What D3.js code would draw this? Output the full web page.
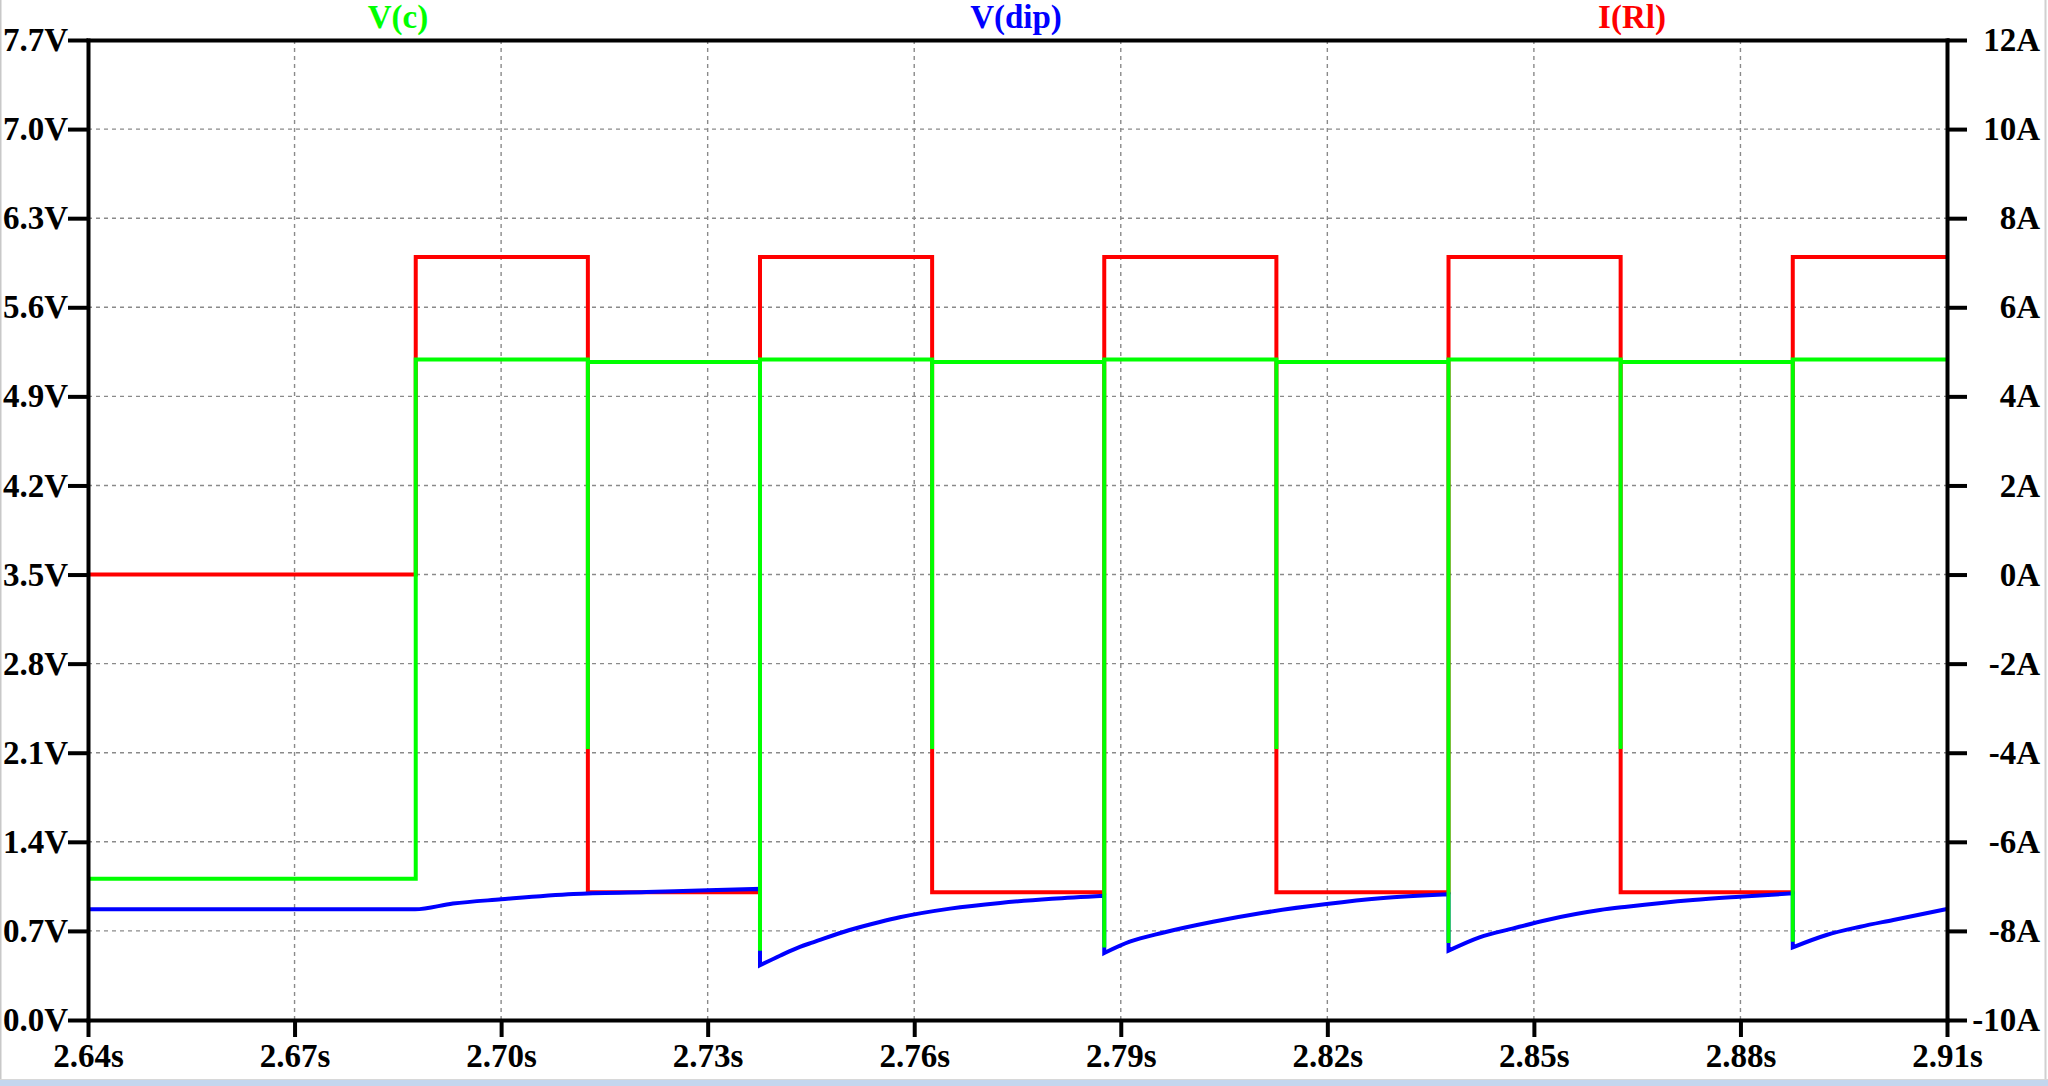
<!DOCTYPE html>
<html>
<head>
<meta charset="utf-8">
<script src="https://cdn.jsdelivr.net/npm/d3@7"></script>
<style>
  html, body { margin: 0; padding: 0; background: #fff; }
  svg { display: block; }
</style>
</head>
<body>
<svg id="chart" width="2048" height="1086"></svg>
<script>
// ---------- DATA ----------
const timeTicks = [2.64, 2.67, 2.70, 2.73, 2.76, 2.79, 2.82, 2.85, 2.88, 2.91];
const voltTicks = [0.0, 0.7, 1.4, 2.1, 2.8, 3.5, 4.2, 4.9, 5.6, 6.3, 7.0, 7.7];
const ampTicks  = [-10, -8, -6, -4, -2, 0, 2, 4, 6, 8, 10, 12];

const seriesNames  = ["V(c)", "V(dip)", "I(Rl)"];
const seriesColors = ["#00ff00", "#0000ff", "#ff0000"];

// I(Rl) – current (right axis)
const iTimes  = [2.64, 2.6876, 2.6876, 2.7126, 2.7126, 2.7376, 2.7376, 2.7626, 2.7626, 2.7876,
                 2.7876, 2.8126, 2.8126, 2.8376, 2.8376, 2.8626, 2.8626, 2.8876, 2.8876, 2.91];
const iValues = [0, 0, 7.13, 7.13, -7.13, -7.13, 7.13, 7.13, -7.13, -7.13,
                 7.13, 7.13, -7.13, -7.13, 7.13, 7.13, -7.13, -7.13, 7.13, 7.13];

// V(c) – voltage (left axis)
const vcTimes  = [2.64, 2.6876, 2.6876, 2.7126, 2.7126, 2.7126, 2.7376, 2.7376, 2.7376,
                  2.7626, 2.7626, 2.7626, 2.7876, 2.7876, 2.7876, 2.8126, 2.8126, 2.8126,
                  2.8376, 2.8376, 2.8376, 2.8626, 2.8626, 2.8626, 2.8876, 2.8876, 2.8876, 2.91];
const vcValues = [1.11, 1.11, 5.19, 5.19, 2.13, 5.17, 5.17, 0.545, 5.19,
                  5.19, 2.13, 5.17, 5.17, 0.57, 5.19, 5.19, 2.13, 5.17,
                  5.17, 0.605, 5.19, 5.19, 2.13, 5.17, 5.17, 0.615, 5.19, 5.19];

// V(dip) – voltage (left axis)
const dipTimes  = [2.64, 2.6875, 2.6930, 2.70, 2.7105, 2.7211, 2.73, 2.7376,
                   2.7376, 2.7405, 2.7434, 2.7453, 2.7505, 2.7550, 2.7579, 2.7652, 2.7725, 2.7800, 2.7876,
                   2.7876, 2.7913, 2.7961, 2.8034, 2.8107, 2.8199, 2.8277, 2.8376,
                   2.8376, 2.8421, 2.8470, 2.8519, 2.8596, 2.8635, 2.8731, 2.8799, 2.8876,
                   2.8876, 2.8925, 2.8974, 2.9022, 2.91];
const dipValues = [0.87, 0.87, 0.915, 0.948, 0.99, 1.005, 1.02, 1.03,
                   0.43, 0.505, 0.575, 0.61, 0.705, 0.77, 0.807, 0.875, 0.92, 0.952, 0.976,
                   0.526, 0.615, 0.686, 0.772, 0.843, 0.911, 0.956, 0.988,
                   0.545, 0.65, 0.72, 0.786, 0.864, 0.89, 0.943, 0.969, 0.995,
                   0.571, 0.668, 0.733, 0.786, 0.872];

// ---------- LAYOUT ----------
const W = 2048, H = 1086;
const L = 88, R = 1947, T = 40, B = 1020;
const FONT = "'Liberation Serif', 'Times New Roman', serif";

const svg = d3.select("#chart");

const x  = d3.scaleLinear().domain([2.64, 2.91]).range([L, R]);
const yV = d3.scaleLinear().domain([0, 7.7]).range([B, T]);
const yA = d3.scaleLinear().domain([-10, 12]).range([B, T]);

// window edges
svg.append("rect").attr("x", 0).attr("y", 0).attr("width", W).attr("height", H).attr("fill", "#fff");
svg.append("line").attr("x1", 0.75).attr("x2", 0.75).attr("y1", 0).attr("y2", 1079)
  .attr("stroke", "#c8c8c8").attr("stroke-width", 1.5);
svg.append("line").attr("x1", 2045.5).attr("x2", 2045.5).attr("y1", 0).attr("y2", 1079)
  .attr("stroke", "#d0d0d0").attr("stroke-width", 2);
svg.append("line").attr("x1", 0).attr("x2", W).attr("y1", 1079.5).attr("y2", 1079.5)
  .attr("stroke", "#d8d8d8").attr("stroke-width", 1);
svg.append("rect").attr("x", 0).attr("y", 1080).attr("width", W).attr("height", 6).attr("fill", "#c3d6ee");

// ---------- GRID ----------
const grid = svg.append("g").attr("stroke", "#8a8a8a").attr("stroke-width", 1.4)
  .attr("stroke-dasharray", "4,4");
grid.selectAll("line.v").data(timeTicks.slice(1, -1)).join("line")
  .attr("x1", d => x(d)).attr("x2", d => x(d)).attr("y1", T).attr("y2", B);
grid.selectAll("line.h").data(voltTicks.slice(1, -1)).join("line")
  .attr("x1", L).attr("x2", R).attr("y1", d => yV(d)).attr("y2", d => yV(d));

// ---------- TRACES ----------
const mk = (ts, vs) => ts.map((t, i) => [t, vs[i]]);
const lineV = d3.line().x(d => x(d[0])).y(d => yV(d[1]));
const lineA = d3.line().x(d => x(d[0])).y(d => yA(d[1]));

// smooth path: split at instantaneous jumps, smooth each piece, join with vertical lines
function smoothPath(pts) {
  const segs = [];
  let cur = [pts[0]];
  for (let i = 1; i < pts.length; i++) {
    if (pts[i][0] <= pts[i - 1][0]) { segs.push(cur); cur = [pts[i]]; }
    else cur.push(pts[i]);
  }
  segs.push(cur);
  const gen = d3.line().x(d => x(d[0])).y(d => yV(d[1])).curve(d3.curveMonotoneX);
  return segs.map((s, i) => {
    const p = gen(s);
    return i === 0 ? p : "L" + p.slice(1);
  }).join("");
}

const traces = svg.append("g").attr("fill", "none").attr("stroke-width", 4);
traces.append("path").attr("d", lineA(mk(iTimes, iValues))).attr("stroke", seriesColors[2]);
traces.append("path").attr("d", smoothPath(mk(dipTimes, dipValues))).attr("stroke", seriesColors[1]);
traces.append("path").attr("d", lineV(mk(vcTimes, vcValues))).attr("stroke", seriesColors[0]);

// ---------- AXES ----------
function styleAxis(g) {
  g.select(".domain").attr("stroke", "#000").attr("stroke-width", 4).attr("stroke-linecap", "square");
  g.selectAll(".tick line").attr("stroke", "#000").attr("stroke-width", 4);
  g.selectAll("text").attr("fill", "#000").style("font-family", FONT)
    .style("font-weight", "bold").style("font-size", "33px");
}

svg.append("g").attr("transform", `translate(0,${T})`)
  .call(d3.axisTop(x).tickValues([]).tickSizeOuter(0)).call(styleAxis);

svg.append("g").attr("transform", `translate(${L},0)`)
  .call(d3.axisLeft(yV).tickValues(voltTicks).tickSizeInner(20).tickSizeOuter(0).tickPadding(0)
    .tickFormat(d => d.toFixed(1) + "V"))
  .call(styleAxis);

const gR = svg.append("g").attr("transform", `translate(${R},0)`)
  .call(d3.axisRight(yA).tickValues(ampTicks).tickSizeInner(20).tickSizeOuter(0)
    .tickFormat(d => d + "A"))
  .call(styleAxis);
gR.selectAll("text").attr("x", 2040 - R).attr("text-anchor", "end");

const gB = svg.append("g").attr("transform", `translate(0,${B})`)
  .call(d3.axisBottom(x).tickValues(timeTicks).tickSizeInner(17).tickSizeOuter(0)
    .tickFormat(d => d.toFixed(2) + "s"))
  .call(styleAxis);
gB.selectAll("text").attr("y", 47).attr("dy", 0);

// ---------- TRACE LABELS ----------
const labelX = [398, 1016, 1632];
svg.append("g").selectAll("text").data(seriesNames).join("text")
  .attr("x", (d, i) => labelX[i]).attr("y", 28)
  .attr("text-anchor", "middle")
  .attr("fill", (d, i) => seriesColors[i])
  .style("font-family", FONT).style("font-weight", "bold").style("font-size", "33px")
  .text(d => d);
</script>
</body>
</html>
